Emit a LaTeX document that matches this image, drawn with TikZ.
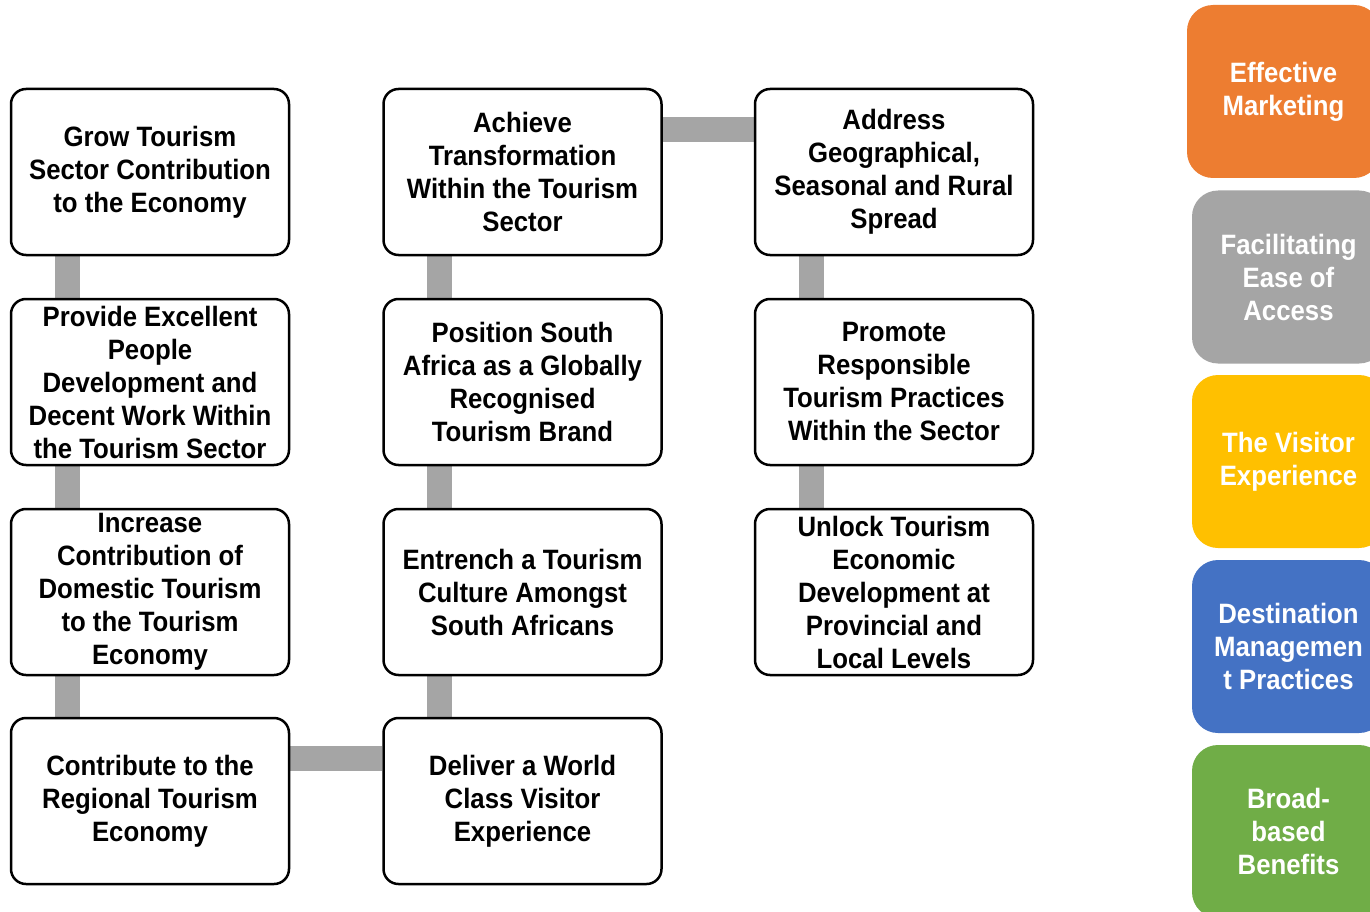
\documentclass[tikz,border=0pt]{standalone}
\usepackage{fontspec}
\setmainfont{Liberation Sans}[FakeStretch=0.92]
\pgfdeclarelayer{background}
\pgfsetlayers{background,main}
\definecolor{linkgray}{HTML}{A5A5A5}
\definecolor{pilorange}{HTML}{ED7D31}
\definecolor{pilgray}{HTML}{A5A5A5}
\definecolor{pilyellow}{HTML}{FFC000}
\definecolor{pilblue}{HTML}{4472C4}
\definecolor{pilgreen}{HTML}{70AD47}
\tikzset{
  goalbox/.style={draw=black, line width=2.5pt, fill=white, rounded corners=15pt,
    minimum width=278pt, minimum height=166pt, align=center, inner sep=0pt,
    font=\fontsize{28pt}{33pt}\selectfont\bfseries},
  pillar/.style={fill=#1, rounded corners=26pt, minimum width=193pt, minimum height=173pt,
    align=center, inner sep=0pt, text=white,
    font=\fontsize{28pt}{33pt}\selectfont\bfseries},
  link/.style={draw=linkgray, line width=25pt}
}
\begin{document}
\begin{tikzpicture}[x=1pt, y=-1pt]
\clip (0,0) rectangle (1370,912);

% goal boxes, three columns
\node[goalbox] (a1) at (150,172) {Grow Tourism\\Sector Contribution\\to the Economy};
\node[goalbox] (a2) at (150,382) {Provide Excellent\\People\\Development and\\Decent Work Within\\the Tourism Sector};
\node[goalbox] (a3) at (150,592) {Increase\\Contribution of\\Domestic Tourism\\to the Tourism\\Economy};
\node[goalbox] (a4) at (150,801) {Contribute to the\\Regional Tourism\\Economy};

\node[goalbox] (b1) at (522.5,172) {Achieve\\Transformation\\Within the Tourism\\Sector};
\node[goalbox] (b2) at (522.5,382) {Position South\\Africa as a Globally\\Recognised\\Tourism Brand};
\node[goalbox] (b3) at (522.5,592) {Entrench a Tourism\\Culture Amongst\\South Africans};
\node[goalbox] (b4) at (522.5,801) {Deliver a World\\Class Visitor\\Experience};

\node[goalbox] (c1) at (894,172) {Address\\Geographical,\\Seasonal and Rural\\Spread};
\node[goalbox] (c2) at (894,382) {Promote\\Responsible\\Tourism Practices\\Within the Sector};
\node[goalbox] (c3) at (894,592) {Unlock Tourism\\Economic\\Development at\\Provincial and\\Local Levels};

% pillars on the right
\node[pillar=pilorange] (p1) at (1283.5,91.5) {Effective\\Marketing};
\node[pillar=pilgray]   (p2) at (1288.5,277) {Facilitating\\Ease of\\Access};
\node[pillar=pilyellow] (p3) at (1288.5,461.5) {The Visitor\\Experience};
\node[pillar=pilblue]   (p4) at (1288.5,646.5) {Destination\\Managemen\\t Practices};
\node[pillar=pilgreen]  (p5) at (1288.5,831.5) {Broad-\\based\\Benefits};

% grey links behind the boxes
\begin{pgfonlayer}{background}
\fill[white] (0,0) rectangle (1370,912);
\foreach \u/\v in {a1/a2, a2/a3, a3/a4, b1/b2, b2/b3, b3/b4, c1/c2, c2/c3}
  \draw[link] ([xshift=57.5pt]\u.south west) -- ([xshift=57.5pt]\v.north west);
\draw[link] ([yshift=-42pt]a4.north east) -- ([yshift=-42pt]b4.north west);
\draw[link] ([yshift=-42pt]b1.north east) -- ([yshift=-42pt]c1.north west);
\end{pgfonlayer}
\end{tikzpicture}
\end{document}
